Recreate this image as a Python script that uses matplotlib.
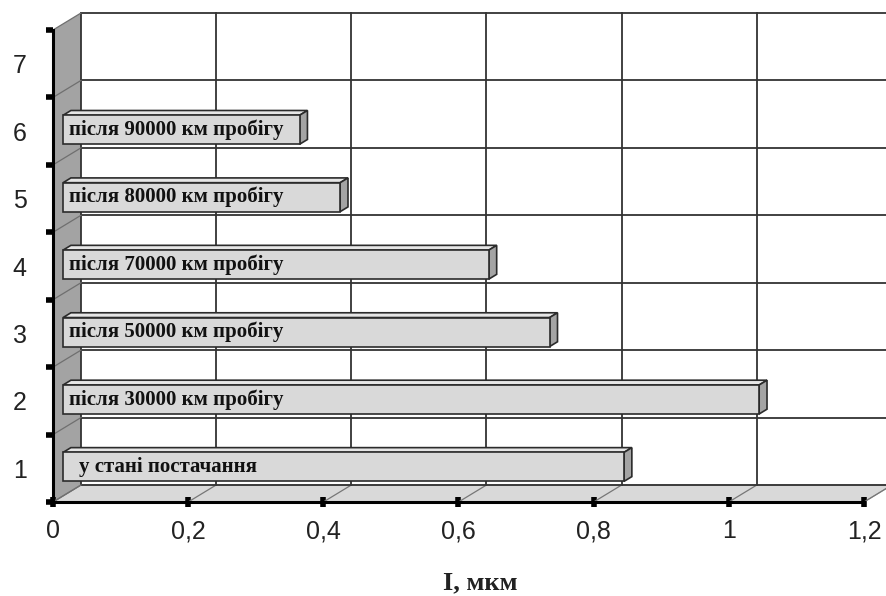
import matplotlib
matplotlib.use("Agg")
import matplotlib.pyplot as plt
from matplotlib.patches import Polygon, Rectangle

# data
positions = [1, 2, 3, 4, 5, 6]
values = [0.83, 1.03, 0.72, 0.63, 0.41, 0.35]
bar_labels = ["у стані постачання", "після 30000 км пробігу", "після 50000 км пробігу",
              "після 70000 км пробігу", "після 80000 км пробігу", "після 90000 км пробігу"]
x_ticks = [0, 0.2, 0.4, 0.6, 0.8, 1.0, 1.2]
x_tick_labels = ["0", "0,2", "0,4", "0,6", "0,8", "1", "1,2"]
y_labels = ["1", "2", "3", "4", "5", "6", "7"]
x_title = "I, мкм"

# fake 3d depth (in data units)
dx, dy = 0.0414, 0.252
f_front, thick = 0.36, 0.28
bar_h = 0.43
xmax = 1.2
ymin, ymax = 0.5, 7.5

fig = plt.figure(figsize=(8.87, 5.96), dpi=100)
ax = fig.add_axes([53 / 887, 94 / 596, 811 / 887, 472 / 596])
ax.set_xlim(0, xmax)
ax.set_ylim(ymin, ymax)
ax.set_facecolor("none")

# left wall
ax.add_patch(Polygon([(0, ymin), (dx, ymin + dy), (dx, ymax + dy), (0, ymax)],
                     closed=True, facecolor="#a3a3a3", edgecolor="none",
                     clip_on=False, zorder=1))
# floor
ax.add_patch(Polygon([(0, ymin), (xmax, ymin), (xmax + dx, ymin + dy), (dx, ymin + dy)],
                     closed=True, facecolor="#d9d9d9", edgecolor="#9a9a9a", lw=0.8,
                     clip_on=False, zorder=1))

# back wall grid
for xv in x_ticks:
    ax.plot([xv + dx, xv + dx], [ymin + dy, ymax + dy], color="#333333", lw=1.3,
            clip_on=False, zorder=2)
    ax.plot([xv, xv + dx], [ymin, ymin + dy], color="#777777", lw=0.9,
            clip_on=False, zorder=2)
for k in range(8):
    yv = ymin + k
    ax.plot([dx, xmax + dx], [yv + dy, yv + dy], color="#333333", lw=1.3,
            clip_on=False, zorder=2)
    ax.plot([0, dx], [yv, yv + dy], color="#6f6f6f", lw=0.9,
            clip_on=False, zorder=2)

# bars
x0 = f_front * dx
for pos, val, lab in zip(positions, values, bar_labels):
    yc = pos + f_front * dy - 0.07
    yb, yt = yc - bar_h / 2, yc + bar_h / 2
    tx, ty = thick * dx, thick * dy
    ax.add_patch(Polygon([(x0, yt), (x0 + val, yt), (x0 + val + tx, yt + ty), (x0 + tx, yt + ty)],
                         closed=True, facecolor="#e6e6e6", edgecolor="#2b2b2b", lw=1.2,
                         clip_on=False, zorder=4))
    ax.add_patch(Polygon([(x0 + val, yb), (x0 + val, yt), (x0 + val + tx, yt + ty), (x0 + val + tx, yb + ty)],
                         closed=True, facecolor="#a4a4a4", edgecolor="#2b2b2b", lw=1.2,
                         clip_on=False, zorder=4))
    ax.add_patch(Rectangle((x0, yb), val, bar_h, facecolor="#d9d9d9", edgecolor="#2b2b2b",
                           lw=1.2, clip_on=False, zorder=5))
    lx = x0 + (0.024 if pos == 1 else 0.009)
    ax.text(lx, yc, lab, fontsize=15, fontweight="bold", family="Liberation Serif",
            va="center", ha="left", color="#111111", zorder=6)

# axes, ticks
for side in ["top", "right"]:
    ax.spines[side].set_visible(False)
for side in ["left", "bottom"]:
    ax.spines[side].set_linewidth(2.2)
    ax.spines[side].set_color("black")
    ax.spines[side].set_zorder(7)

ax.set_xticks(x_ticks)
ax.set_xticklabels(x_tick_labels, family="Liberation Sans", fontsize=18, color="#222222")
ax.tick_params(axis="x", direction="inout", length=7, width=4, pad=9)

ax.set_yticks([ymin + k for k in range(8)])
ax.set_yticklabels([])
ax.tick_params(axis="y", which="major", direction="out", length=5, width=4)
ax.set_yticks(range(1, 8), minor=True)
ax.set_yticklabels(y_labels, minor=True, family="Liberation Sans", fontsize=18, color="#222222")
ax.tick_params(axis="y", which="minor", length=0, pad=19)

fig.text(480 / 887, 1 - 583 / 596, x_title, family="Liberation Serif", fontweight="bold",
         fontsize=19, ha="center", va="center", color="#222222")

fig.savefig("out.png", dpi=100, facecolor="white")
